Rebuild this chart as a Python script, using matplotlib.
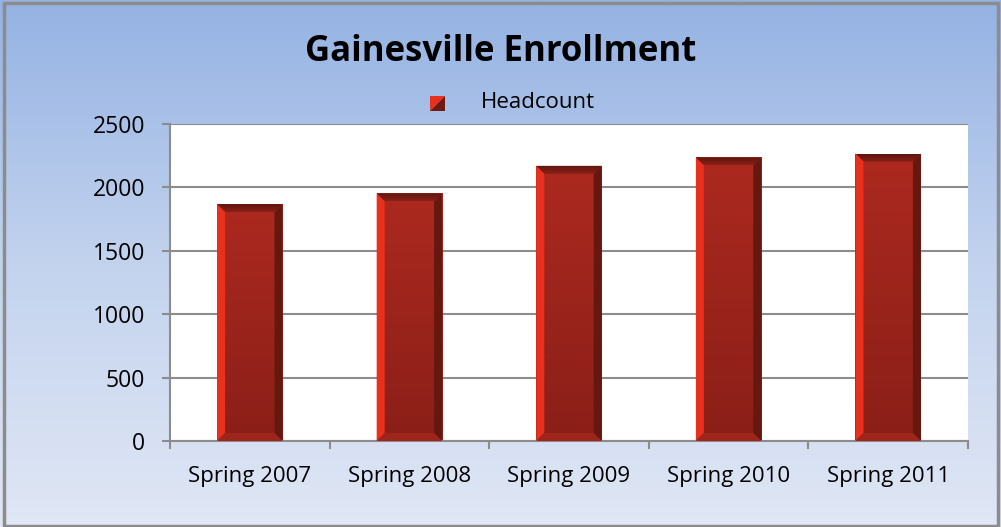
import numpy as np
import matplotlib
matplotlib.use("Agg")
import matplotlib.pyplot as plt
from matplotlib.patches import Polygon, Rectangle
from matplotlib.colors import LinearSegmentedColormap

categories = ["Spring 2007", "Spring 2008", "Spring 2009", "Spring 2010", "Spring 2011"]
headcount = [1868, 1952, 2170, 2236, 2267]
yticks = [0, 500, 1000, 1500, 2000, 2500]
title = "Gainesville Enrollment"
series_name = "Headcount"

plt.rcParams['font.family'] = ['Open Sans', 'DejaVu Sans']

W, H = 1001, 527
fig = plt.figure(figsize=(W / 100, H / 100), dpi=100)

# background gradient
bg = fig.add_axes([0, 0, 1, 1], zorder=-10)
grad = np.linspace(0, 1, 256).reshape(-1, 1)
cmap_bg = LinearSegmentedColormap.from_list("bg", ["#94b2e3", "#c3d3ee", "#e0e7f5"])
bg.imshow(grad, aspect="auto", cmap=cmap_bg, extent=[0, 1, 0, 1], origin="upper")
bg.set_xlim(0, 1)
bg.set_ylim(0, 1)
bg.axis("off")
bg.add_patch(Rectangle((4 / W, 1 / H), (W - 7) / W, (H - 4) / H, fill=False,
                       edgecolor="#8c8c8c", linewidth=2.5, transform=bg.transAxes))

# plot area
left, right, top, bottom = 170, 968, 124, 441
ax = fig.add_axes([left / W, 1 - bottom / H, (right - left) / W, (bottom - top) / H])
ax.set_facecolor("white")
n = len(categories)
x = np.arange(n)
ax.set_xlim(-0.5, n - 0.5)
ax.set_ylim(0, 2500)
ax.set_yticks(yticks)
ax.set_yticklabels([str(v) for v in yticks], fontsize=16.5)
ax.set_xticks(x)
ax.set_xticklabels(categories, fontsize=16)
ax.tick_params(axis="x", length=0, pad=18)
ax.tick_params(axis="y", length=6, width=1.5, color="#8c8c8c", pad=12)
ax.set_xticks(np.arange(-0.5, n, 1), minor=True)
ax.tick_params(axis="x", which="minor", length=6, width=1.5, color="#8c8c8c")
ax.grid(axis="y", color="#8c8c8c", linewidth=1.5, zorder=0)
ax.set_axisbelow(True)
for s in ["top", "right"]:
    ax.spines[s].set_visible(False)
for s in ["left", "bottom"]:
    ax.spines[s].set_color("#8c8c8c")
    ax.spines[s].set_linewidth(1.5)

bw = 0.41
bars = ax.bar(x, headcount, width=bw, color="#a8271e", zorder=2, edgecolor="none")

cmap_bar = LinearSegmentedColormap.from_list("bar", ["#ac291f", "#8a1f18"])
cmap_top = LinearSegmentedColormap.from_list("top", ["#5e150f", "#8a2018"])
bx = 8 / ((right - left) / n)          # bevel in data-x units
by = 8 * 2500 / (bottom - top)         # bevel in data-y units
for b in bars:
    x0 = b.get_x()
    x1 = x0 + b.get_width()
    h = b.get_height()
    im = ax.imshow(np.linspace(0, 1, 100).reshape(-1, 1), cmap=cmap_bar, aspect="auto",
                   extent=[x0, x1, 0, h], origin="upper", zorder=2)
    im.set_clip_path(b)
    # top bevel
    tp = Polygon([(x0, h), (x0 + bx, h - by), (x1 - bx, h - by), (x1, h)],
                 closed=True, facecolor="none", edgecolor="none", zorder=3)
    ax.add_patch(tp)
    imt = ax.imshow(np.linspace(0, 1, 20).reshape(-1, 1), cmap=cmap_top, aspect="auto",
                    extent=[x0, x1, h - by, h], origin="upper", zorder=3)
    imt.set_clip_path(tp)
    # left bevel
    ax.add_patch(Polygon([(x0, 0), (x0 + bx, by), (x0 + bx, h - by), (x0, h)],
                         closed=True, facecolor="#e8301f", edgecolor="none", zorder=3))
    # right bevel
    ax.add_patch(Polygon([(x1, h), (x1 - bx, h - by), (x1 - bx, by), (x1, 0)],
                         closed=True, facecolor="#66170f", edgecolor="none", zorder=3))
    # bottom bevel
    ax.add_patch(Polygon([(x0, 0), (x0 + bx, by), (x1 - bx, by), (x1, 0)],
                         closed=True, facecolor="#9e251c", edgecolor="none", zorder=3))
    ax.set_xlim(-0.5, n - 0.5)
    ax.set_ylim(0, 2500)

# title
fig.text(501 / W, 1 - 52 / H, title, ha="center", va="center", fontsize=25,
         fontweight="bold", color="black")

# legend
lx0, ly0 = 430 / W, 1 - 111 / H
sq = 15
bg.add_patch(Polygon([(lx0, ly0), (lx0, ly0 + sq / H), (lx0 + sq / W, ly0 + sq / H)],
                     closed=True, facecolor="#e8301f", edgecolor="none", transform=fig.transFigure))
bg.add_patch(Polygon([(lx0, ly0), (lx0 + sq / W, ly0), (lx0 + sq / W, ly0 + sq / H)],
                     closed=True, facecolor="#6e1a12", edgecolor="none", transform=fig.transFigure))
fig.text(481 / W, 1 - 102 / H, series_name, ha="left", va="center", fontsize=16)

fig.savefig("out.png", dpi=100)
